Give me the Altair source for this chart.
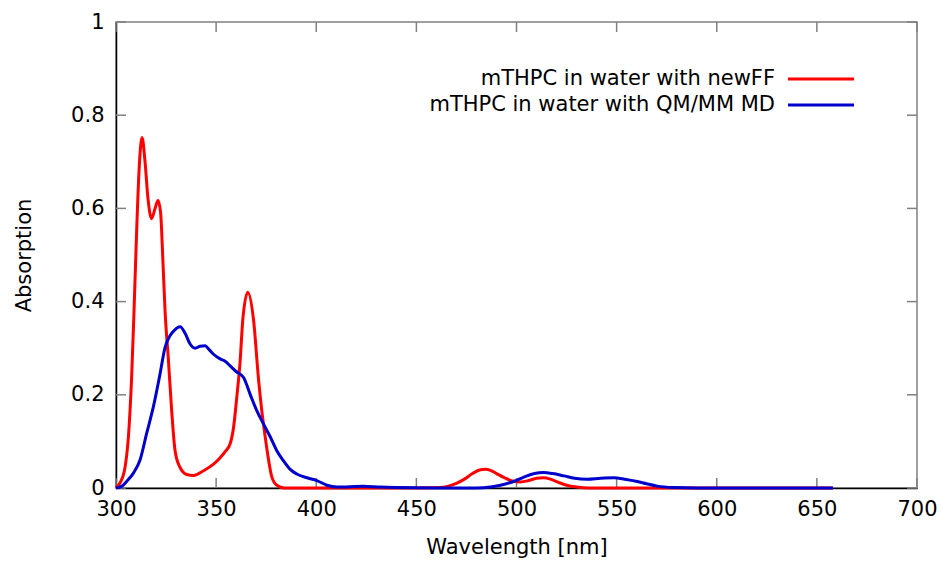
import altair as alt
import pandas as pd

# ---- data ----
series_names = ["mTHPC in water with newFF", "mTHPC in water with QM/MM MD"]
series_colors = ["#ff0000", "#0000cc"]

red_nm = [300, 302, 304.5, 306.2, 307.8, 309, 310.3, 311.5, 313, 314.5, 316, 317.8, 319.5, 321,
          322.3, 323.3, 324.5, 326.2, 327.8, 329.5, 332, 335.3, 338.7, 343.7, 348.7, 352, 354.5,
          357, 358.7, 360.3, 362, 363.3, 365.8, 368.7, 371.2, 372.8, 374.5, 376.2, 377.8, 380.3,
          384, 400, 450, 462, 466, 470, 474, 478, 482, 484.5, 487, 490, 494, 498, 502, 506, 510,
          513.5, 517, 521, 525, 530, 536, 600, 658]
red_abs = [0.0, 0.011, 0.044, 0.11, 0.237, 0.38, 0.55, 0.68, 0.752, 0.70, 0.62, 0.578, 0.60, 0.617,
           0.59, 0.50, 0.38, 0.273, 0.166, 0.08, 0.044, 0.029, 0.027, 0.037, 0.051, 0.065, 0.078,
           0.095, 0.13, 0.194, 0.273, 0.36, 0.42, 0.36, 0.232, 0.166, 0.11, 0.06, 0.024, 0.006,
           0.0, 0.0, 0.0, 0.001, 0.004, 0.01, 0.019, 0.031, 0.039, 0.04, 0.038, 0.031, 0.022, 0.015,
           0.013, 0.016, 0.021, 0.022, 0.019, 0.012, 0.006, 0.002, 0.0, 0.0, 0.0]

blue_nm = [300, 303, 305.3, 308.7, 312, 315.3, 318.7, 322, 324.5, 327, 329.5, 332, 334.5, 337,
           339.5, 342, 344.5, 346.5, 348.7, 352, 354.5, 357, 360, 363.7, 367, 370.3, 373.7, 377,
           380.3, 383.7, 387, 390.3, 395.3, 400.3, 405.3, 410.3, 415, 423.5, 432, 440, 460, 480,
           487, 492, 498.5, 504, 509, 513.5, 518, 523.7, 529, 535.3, 542, 548.7, 554, 560.3, 565,
           570.3, 578.6, 590, 658]
blue_abs = [0.0, 0.004, 0.014, 0.032, 0.06, 0.117, 0.175, 0.245, 0.302, 0.327, 0.34, 0.346, 0.332, 0.309,
            0.30, 0.304, 0.305, 0.297, 0.287, 0.277, 0.272, 0.262, 0.25, 0.237, 0.201, 0.166, 0.137, 0.11,
            0.08, 0.058, 0.04, 0.03, 0.022, 0.016, 0.006, 0.002, 0.002, 0.004, 0.002, 0.001, 0.0, 0.0,
            0.002, 0.006, 0.014, 0.024, 0.031, 0.033, 0.031, 0.026, 0.021, 0.019, 0.021, 0.022, 0.019, 0.014, 0.009,
            0.004, 0.001, 0.0, 0.0]

x_ticks = [300, 350, 400, 450, 500, 550, 600, 650, 700]
y_ticks = [0, 0.2, 0.4, 0.6, 0.8, 1.0]

# ---- build tables ----
df = pd.concat([
    pd.DataFrame({"nm": red_nm, "A": red_abs, "series": series_names[0], "order": range(len(red_nm))}),
    pd.DataFrame({"nm": blue_nm, "A": blue_abs, "series": series_names[1], "order": range(len(blue_nm))}),
])

W, H = 801, 466
FONT = "DejaVu Sans"
FS = 21
TICK_LEN = 10
TICK_COLOR = "#808080"

xscale = alt.Scale(domain=[300, 700], nice=False)
yscale = alt.Scale(domain=[0, 1], nice=False)

lines = alt.Chart(df).mark_line(strokeWidth=3, interpolate="monotone").encode(
    x=alt.X("nm:Q", scale=xscale, title="Wavelength [nm]",
            axis=alt.Axis(values=x_ticks, ticks=False, grid=False, format="d", labelFlush=False,
                          labelPadding=10, titlePadding=17)),
    y=alt.Y("A:Q", scale=yscale, title="Absorption",
            axis=alt.Axis(values=y_ticks, ticks=False, grid=False, format="~g", labelFlush=False,
                          labelPadding=12, titlePadding=36)),
    color=alt.Color("series:N", scale=alt.Scale(domain=series_names, range=series_colors), legend=None),
    order="order:Q",
)

xt = pd.DataFrame({"t": x_ticks})
yt = pd.DataFrame({"t": y_ticks})

xt_bottom = alt.Chart(xt).mark_rule(color=TICK_COLOR, strokeWidth=1.5).encode(
    x=alt.X("t:Q", scale=xscale), y=alt.value(H), y2=alt.value(H - TICK_LEN))
xt_top = alt.Chart(xt).mark_rule(color=TICK_COLOR, strokeWidth=1.5).encode(
    x=alt.X("t:Q", scale=xscale), y=alt.value(0), y2=alt.value(TICK_LEN))
yt_left = alt.Chart(yt).mark_rule(color=TICK_COLOR, strokeWidth=1.5).encode(
    y=alt.Y("t:Q", scale=yscale), x=alt.value(0), x2=alt.value(TICK_LEN))
yt_right = alt.Chart(yt).mark_rule(color=TICK_COLOR, strokeWidth=1.5).encode(
    y=alt.Y("t:Q", scale=yscale), x=alt.value(W), x2=alt.value(W - TICK_LEN))

# ---- gnuplot-style key: right-aligned text with line sample on its right ----
legend_layers = []
row_y = [57, 83]
for name, col, yy in zip(series_names, series_colors, row_y):
    ldf = pd.DataFrame({"series": [name]})
    legend_layers.append(
        alt.Chart(ldf).mark_text(align="right", baseline="middle", font=FONT, fontSize=FS, color="black")
        .encode(text="series:N", x=alt.value(659), y=alt.value(yy))
    )
    legend_layers.append(
        alt.Chart(ldf).mark_rule(color=col, strokeWidth=3)
        .encode(x=alt.value(672), x2=alt.value(738), y=alt.value(yy))
    )

chart = alt.layer(xt_bottom, xt_top, yt_left, yt_right, lines, *legend_layers).properties(
    width=W, height=H,
    background="white",
    padding={"left": 116, "top": 22, "right": 26, "bottom": 73},
    autosize=alt.AutoSizeParams(type="none"),
).configure_view(
    stroke="#808080", strokeWidth=1.5,
).configure_axis(
    labelFont=FONT, labelFontSize=FS, labelColor="black",
    titleFont=FONT, titleFontSize=FS, titleFontWeight="normal", titleColor="black",
    domainColor="black", domainWidth=1.5,
)

chart.save("out.html", embed_options={"renderer": "svg", "actions": False})
